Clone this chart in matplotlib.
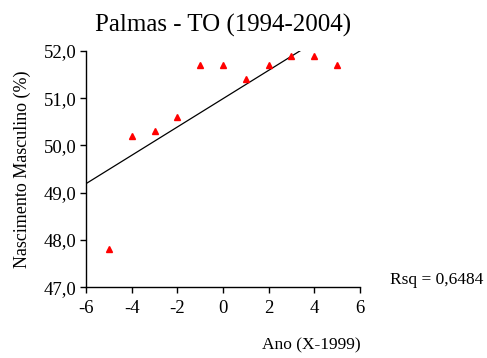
import matplotlib
matplotlib.use("Agg")
import matplotlib.pyplot as plt
import numpy as np
from matplotlib.ticker import FuncFormatter

x_vals = [-5, -4, -3, -2, -1, 0, 1, 2, 3, 4, 5]
y_vals = [47.8, 50.2, 50.3, 50.6, 51.7, 51.7, 51.4, 51.7, 51.9, 51.9, 51.7]
x_ticks = [-6, -4, -2, 0, 2, 4, 6]
y_ticks = [47.0, 48.0, 49.0, 50.0, 51.0, 52.0]
rsq_label = "Rsq = 0,6484"

plt.rcParams['font.family'] = ['Liberation Serif', 'DejaVu Serif']

fig = plt.figure(figsize=(4.87, 3.58), dpi=100)
ax = fig.add_axes([0.1766, 0.198, 0.5626, 0.6595])

x = np.array(x_vals, dtype=float)
y = np.array(y_vals, dtype=float)
slope, intercept = np.polyfit(x, y, 1)
xl = np.array([-6, 6])
ax.plot(xl, intercept + slope * xl, color='black', lw=0.9, zorder=2)
ax.plot(x, y, linestyle='none', marker='^', color='#ff0000', markersize=5, zorder=3)

ax.set_xlim(-6, 6)
ax.set_ylim(47, 52)
ax.set_xticks(x_ticks)
ax.set_xticklabels([str(t).replace('\u2212', '-') for t in x_ticks])
ax.set_yticks(y_ticks)
ax.yaxis.set_major_formatter(FuncFormatter(lambda v, p: f"{v:.1f}".replace('.', ',')))
for s in ['top', 'right']:
    ax.spines[s].set_visible(False)
for s in ['left', 'bottom']:
    ax.spines[s].set_linewidth(1.0)
ax.tick_params(direction='out', length=4, width=1, labelsize=13.5, pad=3)
ax.tick_params(axis='x', pad=5)

ax.set_title("Palmas - TO (1994-2004)", fontsize=18, pad=14)
ax.set_ylabel("Nascimento Masculino (%)", fontsize=13, labelpad=9)
fig.text(0.741, 0.035, "Ano (X-1999)", fontsize=12.5, ha='right', va='center')
fig.text(0.80, 0.218, rsq_label, fontsize=12.5, ha='left', va='center')

fig.savefig("out.png", dpi=100)
